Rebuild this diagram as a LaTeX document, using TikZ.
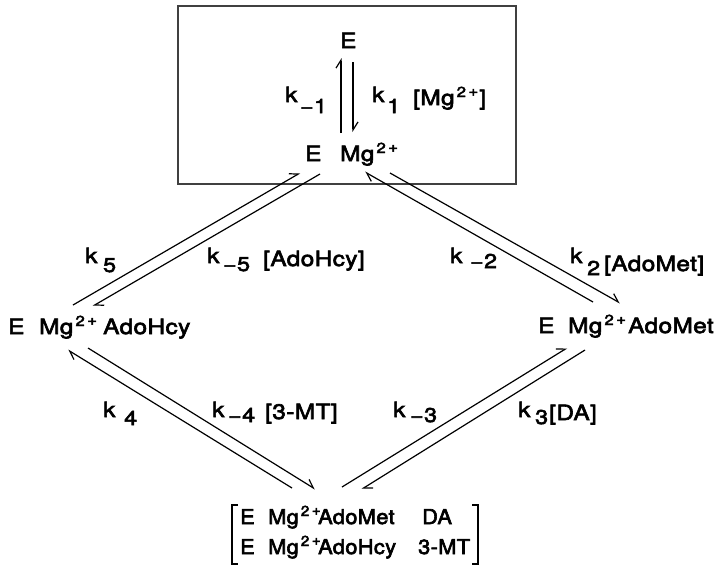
\documentclass[tikz,border=0pt]{standalone}
\usepackage{fontspec}
\setmainfont{TeX Gyre Heros}[FakeStretch=1.16, FakeBold=3, LetterSpace=2]
\newfontfamily\narrowfont{TeX Gyre Heros}[FakeStretch=1.06, FakeBold=3, LetterSpace=2]
\usetikzlibrary{arrows.meta}
% \ksub{width of k box}{drop of subscript}{subscript}
\newcommand\ksub[3]{\makebox[#1][l]{k}\raisebox{-#2}{\fontsize{20}{20}\selectfont #3}}
\newcommand\mgtwo{Mg\kern2pt\raisebox{8pt}{\fontsize{14.5}{14}\selectfont 2\kern2.5pt\raisebox{1pt}{+}}\kern1pt}
\newcommand\fixw[2]{\makebox[#1][l]{#2}}
\newcommand\lowr[2]{\raisebox{-#1}{#2}}
\begin{document}
\begin{tikzpicture}[x=1pt,y=-1pt,
  txt/.style={inner sep=0pt, anchor=base west, font=\fontsize{21}{26}\selectfont},
  rxn/.style={line width=1.2pt, -{Straight Barb[harpoon, length=8pt, width=10pt]}},
  frame/.style={line width=1.3pt, draw=black!75},
  brack/.style={line width=1.3pt}]
\useasboundingbox (0,0) rectangle (727,566);
\draw[frame] (178,6) rectangle (516,184);
% species
\node[txt] (E) at (340,48) {E};
\node[txt] (EMg) at (305,161) {\fixw{35pt}{E}\mgtwo};
\node[txt] (ado) at (8,334) {\fixw{31pt}{E}\fixw{64pt}{\mgtwo}AdoHcy};
\node[txt] (adm) at (538,333) {\fixw{30pt}{E}\fixw{60pt}{\mgtwo}AdoMet};
\node[txt, font=\fontsize{20.5}{26}\narrowfont] (c1) at (240,524)
  {\fixw{182pt}{\fixw{28pt}{E}\fixw{50pt}{\mgtwo}AdoMet}DA};
\node[txt, font=\fontsize{20.5}{26}\narrowfont] (c2) at (240,554)
  {\fixw{178pt}{\fixw{28pt}{E}\fixw{50pt}{\mgtwo}AdoHcy}3-MT};
\draw[brack] (238,505) -- (232,505) -- (232,564) -- (238,564);
\draw[brack] (472,505) -- (478,505) -- (478,564) -- (472,564);
% rate labels
\node[txt] (km1) at (285,102) {\ksub{15pt}{11pt}{−1}};
\node[txt] (k1) at (372,102) {\fixw{41pt}{\ksub{15pt}{11pt}{1}}\lowr{3pt}{[\mgtwo]}};
\node[txt] (k5) at (85,263) {\ksub{18pt}{9pt}{5}};
\node[txt] (km5) at (207,263) {\fixw{56pt}{\ksub{16pt}{8pt}{−5}}\lowr{3pt}{[AdoHcy]}};
\node[txt] (km2) at (450,263) {\ksub{20pt}{5pt}{−2}};
\node[txt] (k2) at (570,263) {\fixw{34pt}{\ksub{17pt}{12pt}{2}}\lowr{8pt}{[AdoMet]}};
\node[txt] (k4) at (103,417) {\ksub{21pt}{8pt}{4}};
\node[txt] (km4) at (212,417) {\fixw{53pt}{\ksub{16pt}{5pt}{−4}}\lowr{2pt}{[3-MT]}};
\node[txt] (km3) at (393,417) {\ksub{17pt}{5pt}{−3}};
\node[txt] (k3) at (518,417) {\fixw{31pt}{\ksub{17pt}{7pt}{3}}\lowr{3pt}{[DA]}};
% arrow end points
\coordinate (v1a) at (341,133); \coordinate (v1b) at (341,58);
\coordinate (v2a) at (353,62);  \coordinate (v2b) at (353,132);
\coordinate (l1a) at (73,305);  \coordinate (l1b) at (300,173);
\coordinate (l2a) at (320,174); \coordinate (l2b) at (93,306);
\coordinate (r1a) at (390,173); \coordinate (r1b) at (620,303);
\coordinate (r2a) at (593,302); \coordinate (r2b) at (365,172);
\coordinate (b1a) at (88,348);  \coordinate (b1b) at (315,489);
\coordinate (b2a) at (292,488); \coordinate (b2b) at (68,350);
\coordinate (b3a) at (342,487); \coordinate (b3b) at (567,348);
\coordinate (b4a) at (585,350); \coordinate (b4b) at (362,489);
\foreach \a/\b in {v1a/v1b,v2a/v2b,l1a/l1b,l2a/l2b,r1a/r1b,r2a/r2b,b1a/b1b,b2a/b2b,b3a/b3b,b4a/b4b}
  \draw[rxn] (\a) -- (\b);
\end{tikzpicture}
\end{document}
